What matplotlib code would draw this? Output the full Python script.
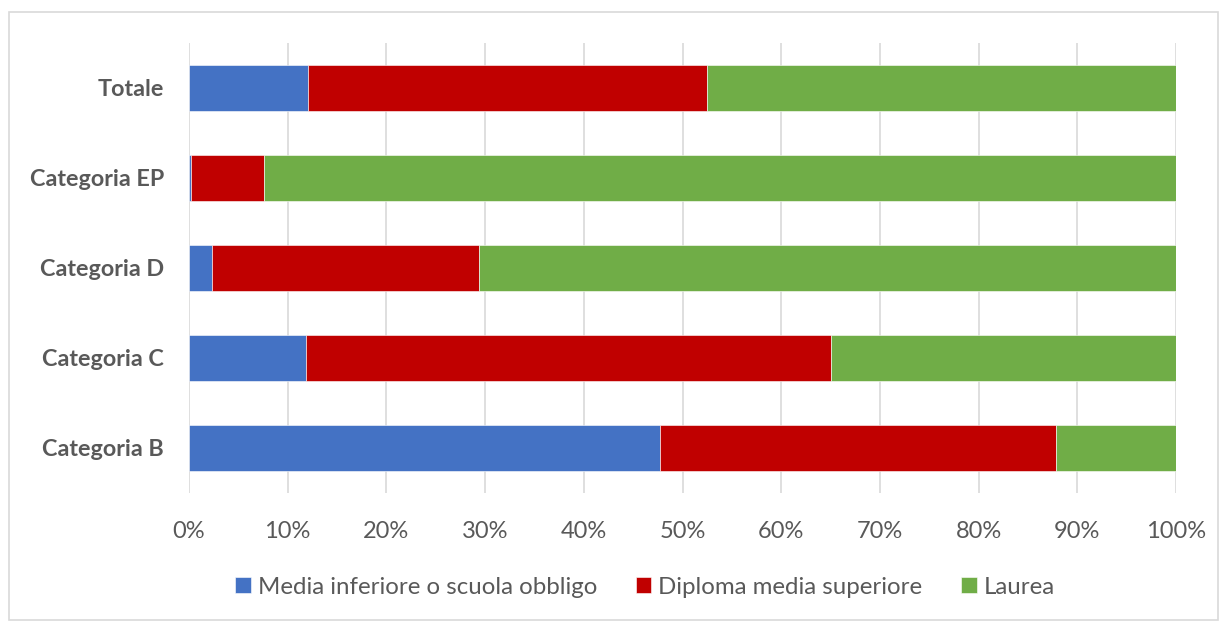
import matplotlib
matplotlib.use("Agg")
import matplotlib.pyplot as plt
from matplotlib.patches import Rectangle
from matplotlib.ticker import FuncFormatter, MultipleLocator

categories = ["Categoria B", "Categoria C", "Categoria D", "Categoria EP", "Totale"]
media_inferiore = [47.7, 11.9, 2.35, 0.25, 12.05]
diploma = [40.1, 53.1, 27.05, 7.35, 40.45]
laurea = [12.2, 35.0, 70.6, 92.4, 47.5]
series_names = ["Media inferiore o scuola obbligo", "Diploma media superiore", "Laurea"]
colors = ["#4472C4", "#C00000", "#70AD47"]

plt.rcParams["font.family"] = ["Lato", "DejaVu Sans"]

fig = plt.figure(figsize=(12.25, 6.23), dpi=100)
fig.patches.append(Rectangle((9 / 1225, 3 / 623), 1209 / 1225, 608 / 623,
                             transform=fig.transFigure, fill=False,
                             edgecolor="#D9D9D9", linewidth=1.2))

ax = fig.add_axes([189 / 1225, 1 - 493 / 623, 987 / 1225, 450 / 623])

ypos = list(range(len(categories)))
left = [0.0] * len(categories)
for vals, name, col in zip([media_inferiore, diploma, laurea], series_names, colors):
    ax.barh(ypos, vals, left=left, height=0.51, color=col, label=name,
            edgecolor="white", linewidth=0.4, zorder=3)
    left = [l + v for l, v in zip(left, vals)]

ax.set_xlim(0, 100)
ax.set_ylim(-0.5, len(categories) - 0.5)
ax.xaxis.set_major_locator(MultipleLocator(10))
ax.xaxis.set_major_formatter(FuncFormatter(lambda v, p: f"{v:.0f}%"))
ax.grid(axis="x", color="#D9D9D9", linewidth=1.2, zorder=0)
ax.set_yticks(ypos)
ax.set_yticklabels(categories, fontweight="bold", fontsize=16.8, color="#595959")
ax.tick_params(axis="x", labelsize=17, labelcolor="#595959", length=0, pad=20)
ax.tick_params(axis="y", length=0, pad=18)
for s in ax.spines.values():
    s.set_visible(False)

handles, labels = ax.get_legend_handles_labels()
fig.legend(handles, labels, loc="center", bbox_to_anchor=(645 / 1225, 1 - 587 / 623),
           ncol=3, frameon=False, fontsize=17.3, labelcolor="#595959",
           handlelength=0.65, handleheight=0.65, handletextpad=0.3, columnspacing=1.6)

fig.savefig("out.png", dpi=100)
